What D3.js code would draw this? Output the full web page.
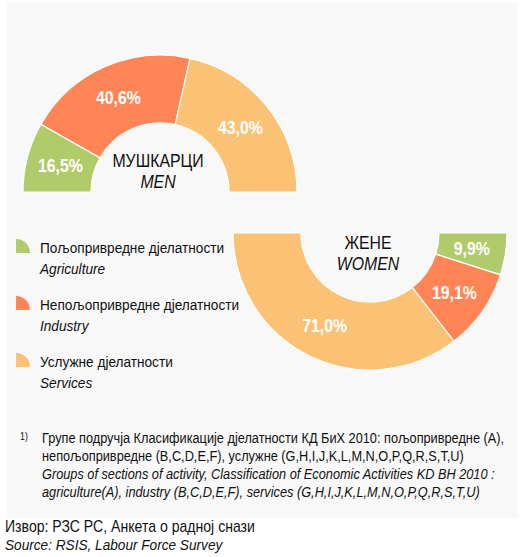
<html>
<head>
<meta charset="utf-8">
<script src="https://d3js.org/d3.v7.min.js"></script>
<style>
  body { margin: 0; background: #ffffff; }
  text { font-family: "Liberation Sans", Arial, sans-serif; fill: #111; }
</style>
</head>
<body>
<div id="chart_area"></div>

<script>

// data
var categories = ["Agriculture", "Industry", "Services"];
var menValues = [16.5, 40.6, 43.0];
var womenValues = [9.9, 19.1, 71.0];
var legendSr = ["Пољопривредне дјелатности", "Непољопривредне дјелатности", "Услужне дјелатности"];
var legendEn = ["Agriculture", "Industry", "Services"];
var footSr = ["Групе подручја Класификације дјелатности КД БиХ 2010: пољопривредне (A),",
              "непољопривредне (B,C,D,E,F), услужне (G,H,I,J,K,L,M,N,O,P,Q,R,S,T,U)"];
var footEn = ["Groups of sections of activity, Classification of Economic Activities KD BH 2010 :",
              "agriculture(A), industry (B,C,D,E,F), services (G,H,I,J,K,L,M,N,O,P,Q,R,S,T,U)"];

var width = 525, height = 557;
var innerR = 69, outerR = 137;
var narrow = 0.88; // squeeze text to look like a narrow font

var color = d3.scaleOrdinal().domain(categories).range(["#b0cb69", "#ff8556", "#fbc275"]);

var svg = d3.select("#chart_area").append("svg")
    .attr("width", width).attr("height", height);

// light panel behind the chart
svg.append("rect").attr("x", 7).attr("y", 3).attr("width", 511).attr("height", 515)
    .attr("fill", "#f8f8f8");

function addText(parent, x, y, str, size, italic, anchor) {
    return parent.append("text")
        .attr("transform", "translate(" + x + "," + y + ") scale(" + narrow + ",1)")
        .attr("text-anchor", anchor || "start")
        .style("font-size", size + "px")
        .style("font-style", italic ? "italic" : "normal")
        .text(str);
}

var arc = d3.arc().innerRadius(innerR).outerRadius(outerR);

function drawHalf(values, cx, cy, a0, a1, title, subtitle, ty) {
    var pie = d3.pie().sort(null).startAngle(a0).endAngle(a1).value(function(d) { return d; });
    var g = svg.append("g").attr("transform", "translate(" + cx + "," + cy + ")");
    var slices = pie(values);

    g.selectAll("path").data(slices).enter().append("path")
        .attr("d", arc)
        .attr("fill", function(d, i) { return color(categories[i]); })
        .attr("stroke", "#ffffff")
        .attr("stroke-width", 1.2);

    slices.forEach(function(d) {
        var c = arc.centroid(d);
        addText(g, c[0], c[1] + 6.5, d3.format(".1f")(d.data).replace(".", ",") + "%", 18, false, "middle")
            .style("font-weight", "bold")
            .style("fill", "#ffffff");
    });

    addText(g, -2, ty, title, 18, false, "middle");
    addText(g, -2, ty + 21, subtitle, 18, true, "middle");
}

drawHalf(menValues, 160, 192, -Math.PI / 2, Math.PI / 2, "МУШКАРЦИ", "MEN", -25);
drawHalf(womenValues, 370, 233, Math.PI / 2, 3 * Math.PI / 2, "ЖЕНЕ", "WOMEN", 16);

// legend
var legendIcon = d3.arc().innerRadius(0).outerRadius(14).startAngle(0).endAngle(Math.PI / 2);
categories.forEach(function(c, i) {
    var lg = svg.append("g").attr("transform", "translate(16," + (253 + i * 57) + ")");
    lg.append("path").attr("d", legendIcon).attr("fill", color(c));
    addText(lg, 24, 0, legendSr[i], 15.5, false);
    addText(lg, 24, 21, legendEn[i], 15.5, true);
});

// footnote
addText(svg, 20, 440, "1)", 10, false);
footSr.concat(footEn).forEach(function(d, i) {
    addText(svg, 42, 443 + i * 18, d, 14.5, i >= 2);
});

addText(svg, 5, 532, "Извор: РЗС РС, Анкета о радној снази", 16, false);
addText(svg, 5, 550, "Source: RSIS, Labour Force Survey", 15.5, true);

</script>
</body>
</html>
